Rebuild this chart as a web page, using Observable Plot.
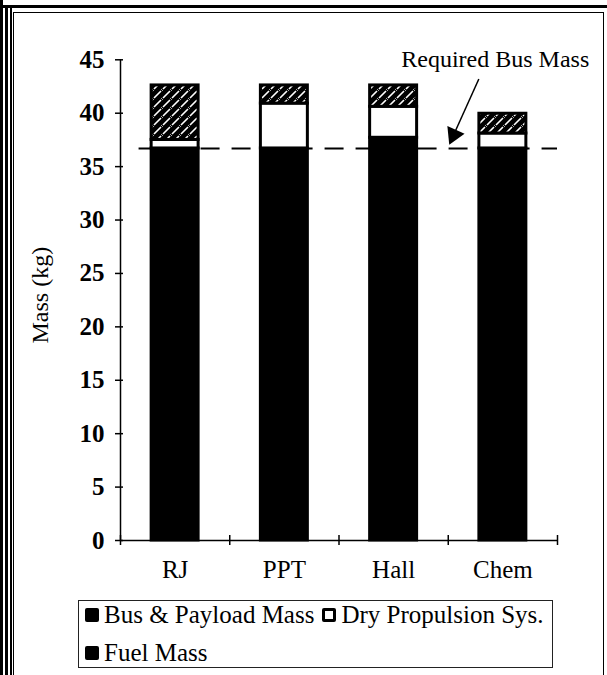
<!DOCTYPE html>
<html>
<head>
<meta charset="utf-8">
<script src="https://cdn.jsdelivr.net/npm/d3@7"></script>
<script src="https://cdn.jsdelivr.net/npm/@observablehq/plot@0.6"></script>
<style>
  html, body { margin: 0; padding: 0; background: #fff; }
  #page { position: relative; width: 607px; height: 675px; overflow: hidden; font-family: "Liberation Serif", "Times New Roman", serif; color: #000; }
  .stripe { position: absolute; background: #000; }
  #inner { position: absolute; left: 13px; top: 12px; width: 589px; height: 700px; border: 1px solid #000; }
  #chart { position: absolute; left: 0; top: 0; }
  #legend { position: absolute; left: 78px; top: 600px; width: 467px; height: 66px; border: 1px solid #222; background: #fff;
            display: flex; flex-wrap: wrap; row-gap: 10px; padding: 0 0 0 6px; box-sizing: content-box; font-size: 25px; line-height: 28px; }
  .item { display: inline-flex; align-items: center; margin-right: 8px; white-space: nowrap; }
  .sw { width: 14px; height: 14px; box-sizing: border-box; margin-right: 5px; border-radius: 2px; }
</style>
</head>
<body>
<div id="page">
  <div class="stripe" style="left:0;top:5px;width:607px;height:3px"></div>
  <div class="stripe" style="left:0;top:0;width:3px;height:675px"></div>
  <div class="stripe" style="left:5px;top:5px;width:3px;height:670px"></div>
  <div class="stripe" style="left:10px;top:8px;width:2px;height:667px"></div>
  <div id="inner"></div>
  <div id="chart"></div>
  <div id="legend"></div>
</div>
<script>
// ---- data ----
const categories = ["RJ", "PPT", "Hall", "Chem"];
const series = ["Bus & Payload Mass", "Dry Propulsion Sys.", "Fuel Mass"];
const busMass  = [36.7, 36.7, 37.7, 36.7];
const dryMass  = [0.8, 4.2, 2.9, 1.4];
const fuelMass = [5.1, 1.7, 2.0, 1.85];
const requiredBusMass = 36.7;
const yTicks = [0, 5, 10, 15, 20, 25, 30, 35, 40, 45];
const yLabel = "Mass (kg)";
const annotationText = "Required Bus Mass";
const annotationAt = [{x: 3.43, y: 45.0}];
const arrowFrom = {x: 3.28, y: 43.2};
const arrowTo = {x: 3.02, y: 37.3};
const dashStart = 0.17;

// ---- build table ----
const seriesValues = [busMass, dryMass, fuelMass];
const rows = categories.flatMap((cat, i) => {
  let base = 0;
  return series.map((s, k) => {
    const v = seriesValues[k][i];
    const r = {cat, i, series: s, y1: base, y2: base + v};
    base += v;
    return r;
  });
});
const centers = categories.map((c, i) => i + 0.5);
const halfBar = 0.215;

const W = 607, H = 590, ML = 120, MR = 50, MT = 59.3, MB = 50;
const pxX = (W - ML - MR) / categories.length, pxY = (H - MT - MB) / 45;
const ddx = (arrowTo.x - arrowFrom.x) * pxX, ddy = -(arrowTo.y - arrowFrom.y) * pxY;
const ang = Math.atan2(ddy, ddx);
const rotDeg = ang * 180 / Math.PI + 90;
const back = 8;

const chart = Plot.plot({
  width: W, height: H,
  marginLeft: ML, marginRight: MR, marginTop: MT, marginBottom: MB,
  x: {domain: [0, categories.length]},
  y: {domain: [0, 45]},
  color: {domain: series, range: ["#000", "#fff", "url(#hatch)"]},
  style: {fontFamily: "'Liberation Serif', 'Times New Roman', serif", fontSize: "24px", background: "transparent", color: "#000", overflow: "visible"},
  marks: [
    Plot.rect(rows, {x1: d => d.i + 0.5 - halfBar, x2: d => d.i + 0.5 + halfBar, y1: "y1", y2: "y2", fill: "series", stroke: "#000", strokeWidth: 3}),
    Plot.ruleY([requiredBusMass], {x1: dashStart, x2: categories.length, stroke: "#000", strokeWidth: 2, strokeDasharray: "19,12"}),
    Plot.ruleX([0], {stroke: "#000", strokeWidth: 1.5}),
    Plot.ruleY([0], {stroke: "#000", strokeWidth: 1.5}),
    Plot.ruleY(yTicks, {y: d => d, x1: 0, x2: 0, insetLeft: -5, insetRight: -3, stroke: "#000", strokeWidth: 1.5}),
    Plot.ruleX(d3.range(categories.length + 1), {x: d => d, y1: 0, y2: 0, insetTop: -5, insetBottom: -5, stroke: "#000", strokeWidth: 1.5}),
    Plot.axisY({ticks: yTicks, tickSize: 0, tickPadding: 16, fontSize: 25, fontWeight: "bold", label: null}),
    Plot.axisX({ticks: centers, tickFormat: d => categories[Math.floor(d)], tickSize: 0, tickPadding: 20, fontSize: 25, label: null}),
    Plot.text([yLabel], {frameAnchor: "left", dx: -80, dy: -5, rotate: -90, textAnchor: "middle", fontSize: 24, text: d => d}),
    Plot.link([{}], {x1: arrowFrom.x, y1: arrowFrom.y, x2: arrowTo.x, y2: arrowTo.y, stroke: "#000", strokeWidth: 1.5}),
    Plot.dot([arrowTo], {x: "x", y: "y", symbol: "triangle2", r: 9, fill: "#000", stroke: "none", rotate: rotDeg,
      dx: -Math.cos(ang) * back, dy: -Math.sin(ang) * back}),
    Plot.text(annotationAt, {x: "x", y: "y", text: () => annotationText, fontSize: 24, lineAnchor: "middle"})
  ]
});

d3.select(chart).insert("defs", ":first-child").html(
  '<pattern id="hatch" patternUnits="userSpaceOnUse" width="9" height="9">' +
  '<rect width="9" height="9" fill="#000"/>' +
  '<path d="M-2,2 l4,-4 M1,8 l7,-7 M7,11 l4,-4" stroke="#fff" stroke-width="1.6"/>' +
  '</pattern>');
document.getElementById("chart").appendChild(chart);

// ---- legend ----
const swatchStyles = [
  "background:#000;",
  "background:#fff;border:3px solid #000;",
  "background:#000;"
];
const legend = d3.select("#legend");
series.forEach((s, k) => {
  const it = legend.append("span").attr("class", "item");
  it.append("span").attr("class", "sw").attr("style", swatchStyles[k]);
  it.append("span").text(s);
});
</script>
</body>
</html>
